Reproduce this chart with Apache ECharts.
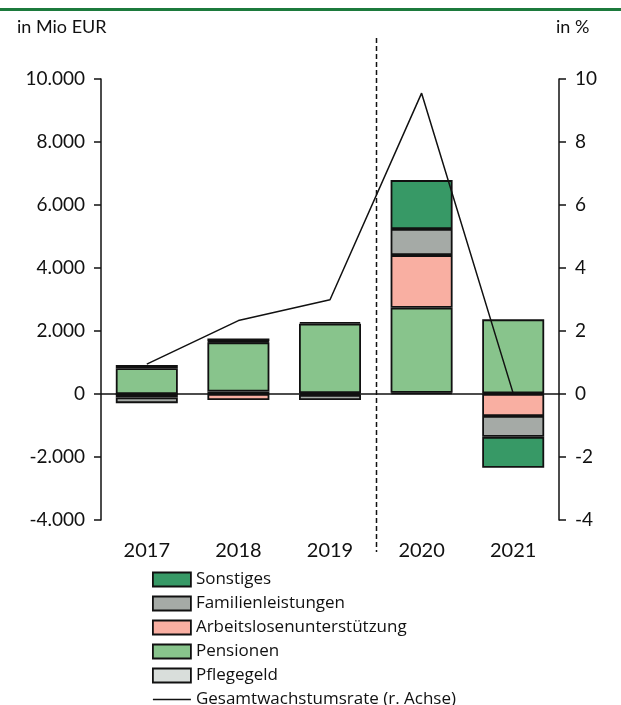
<!DOCTYPE html>
<html>
<head>
<meta charset="utf-8">
<script src="https://cdn.jsdelivr.net/npm/echarts@6/dist/echarts.min.js"></script>
<style>
  html, body { margin: 0; padding: 0; background: #fff; }
  #main { width: 621px; height: 705px; }
</style>
</head>
<body>
<div id="main"></div>
<script>
// Daten (in Mio EUR bzw. %)
const years = ['2017', '2018', '2019', '2020', '2021']
const pflegegeld = [0, 80, 30, 40, 20]
const pensionen = [820, 1560, 2200, 2700, 2350]
const arbeitslosen = [-110, -190, -30, 1670, -700]
const familien = [-180, 30, -160, 830, -660]
const sonstiges = [100, 90, 50, 1550, -980]
const wachstum = [0.95, 2.33, 2.99, 9.55, 0.02]

const leftTicks = { min: -4000, max: 10000, interval: 2000 }
const rightTicks = { min: -4, max: 10, interval: 2 }

const FONT = 'Lato, "Open Sans", sans-serif'
const LEGEND_FONT = '"Open Sans", Lato, sans-serif'
const chart = echarts.init(document.getElementById('main'))

const fmtMio = v => {
  const s = Math.abs(v).toString().replace(/\B(?=(\d{3})+(?!\d))/g, '.')
  return (v < 0 ? '-' : '') + s
}

const barSeries = (name, data, color) => ({
  name: name,
  type: 'bar',
  stack: 'total',
  barWidth: 62,
  data: data,
  itemStyle: { color: color, borderColor: '#111', borderWidth: 1.8 },
  emphasis: { disabled: true }
})

const barIcon = name => ({ name: name, icon: 'rect', itemStyle: { borderColor: '#111', borderWidth: 1.8 } })

const option = {
  animation: false,
  textStyle: { fontFamily: FONT },
  grid: { left: 101, right: 62, top: 79, bottom: 185 },
  legend: {
    orient: 'vertical',
    left: 152,
    top: 571,
    height: 200,
    itemWidth: 38,
    itemHeight: 14,
    itemGap: 7,
    padding: 0,
    textStyle: { fontSize: 17, lineHeight: 17, color: '#111', fontFamily: LEGEND_FONT },
    data: [
      barIcon('Sonstiges'),
      barIcon('Familienleistungen'),
      barIcon('Arbeitslosenunterstützung'),
      barIcon('Pensionen'),
      barIcon('Pflegegeld'),
      { name: 'Gesamtwachstumsrate (r. Achse)', icon: 'path://M0,0 L40,0 L40,1.5 L0,1.5 Z', itemStyle: { color: '#111', borderWidth: 0 } }
    ]
  },
  xAxis: {
    type: 'category',
    data: years,
    axisLine: { show: false, onZero: false },
    axisTick: { show: false },
    axisLabel: { fontSize: 20, color: '#111', margin: 21 }
  },
  yAxis: [
    {
      type: 'value',
      min: leftTicks.min,
      max: leftTicks.max,
      interval: leftTicks.interval,
      splitLine: { show: false },
      axisLine: { show: true, lineStyle: { color: '#111', width: 1.5 } },
      axisTick: { show: true, length: 7, lineStyle: { color: '#111', width: 1.5 } },
      axisLabel: { fontSize: 19, color: '#111', margin: 16, formatter: fmtMio }
    },
    {
      type: 'value',
      min: rightTicks.min,
      max: rightTicks.max,
      interval: rightTicks.interval,
      splitLine: { show: false },
      axisLine: { show: true, lineStyle: { color: '#111', width: 1.5 } },
      axisTick: { show: true, length: 7, lineStyle: { color: '#111', width: 1.5 } },
      axisLabel: { fontSize: 19, color: '#111', margin: 16 }
    }
  ],
  series: [
    Object.assign(barSeries('Pflegegeld', pflegegeld, '#d9dedb'), {
      markLine: {
        silent: true,
        symbol: 'none',
        label: { show: false },
        lineStyle: { color: '#111', width: 1.5, type: 'solid' },
        data: [{ yAxis: 0 }]
      }
    }),
    barSeries('Pensionen', pensionen, '#88c48c'),
    barSeries('Arbeitslosenunterstützung', arbeitslosen, '#f9afa2'),
    barSeries('Familienleistungen', familien, '#a5aaa6'),
    barSeries('Sonstiges', sonstiges, '#379966'),
    {
      name: 'Gesamtwachstumsrate (r. Achse)',
      type: 'line',
      yAxisIndex: 1,
      data: wachstum,
      symbol: 'none',
      lineStyle: { color: '#111', width: 1.5 },
      itemStyle: { color: '#111' },
      z: 5
    }
  ]
}

chart.setOption(option)

// Trennlinie zwischen 2019 und 2020, grüne Linie oben, Achsentitel
const x19 = chart.convertToPixel({ xAxisIndex: 0 }, '2019')
const x20 = chart.convertToPixel({ xAxisIndex: 0 }, '2020')
const sepX = Math.round((x19 + x20) / 2) + 0.5

chart.setOption({
  graphic: [
    {
      type: 'rect',
      shape: { x: 0, y: 8, width: 621, height: 3 },
      style: { fill: '#1c7a3c' }
    },
    {
      type: 'line',
      shape: { x1: sepX, y1: 38, x2: sepX, y2: 552 },
      style: { stroke: '#111', lineWidth: 1.5, lineDash: [5, 3] },
      z: 10
    },
    {
      type: 'text',
      left: 17,
      top: 18,
      style: { text: 'in Mio EUR', fontSize: 18, fill: '#111', fontFamily: FONT }
    },
    {
      type: 'text',
      left: 556,
      top: 18,
      style: { text: 'in %', fontSize: 18, fill: '#111', fontFamily: FONT }
    }
  ]
})
</script>
</body>
</html>
